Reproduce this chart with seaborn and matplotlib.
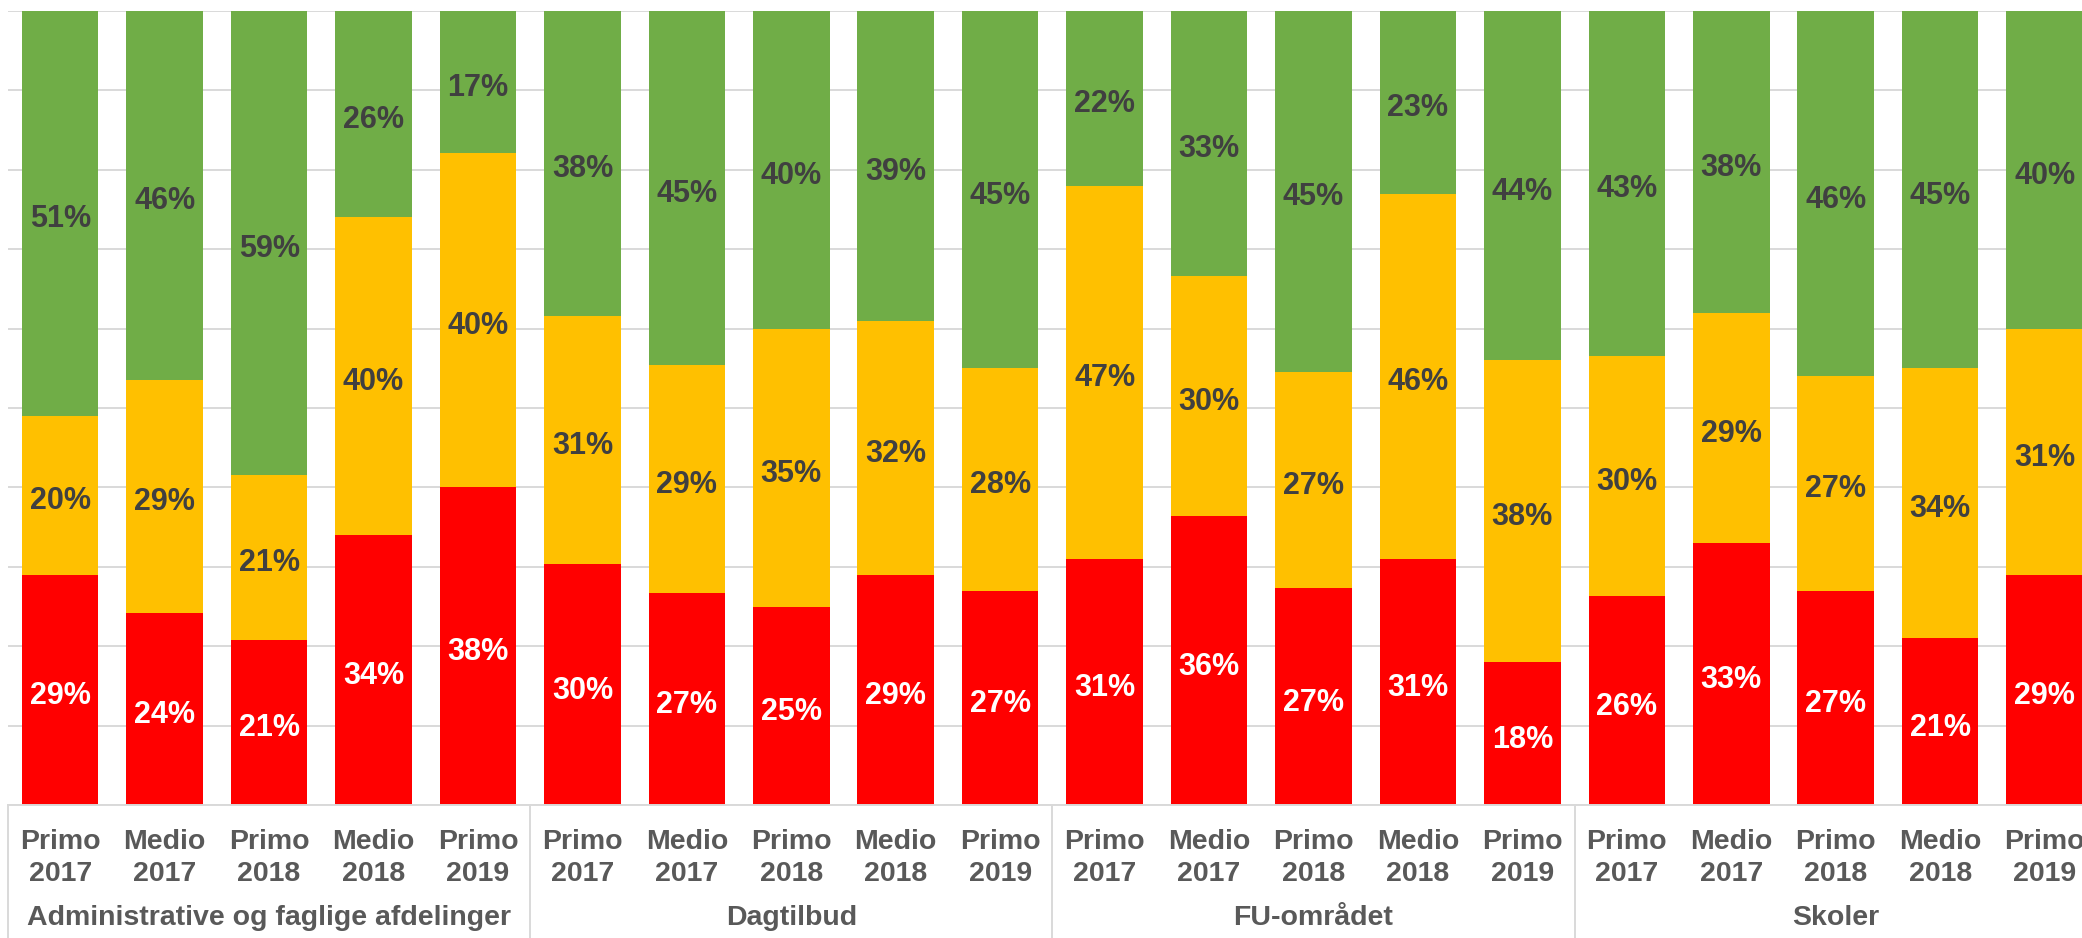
import numpy as np
import pandas as pd
import matplotlib
matplotlib.use("Agg")
import matplotlib.pyplot as plt
import matplotlib.transforms as mtransforms
import seaborn as sns

# ---------------- data ----------------
groups = ["Administrative og faglige afdelinger", "Dagtilbud", "FU-området", "Skoler"]
periods = ["Primo\n2017", "Medio\n2017", "Primo\n2018", "Medio\n2018", "Primo\n2019"]

red_vals = [29, 24, 21, 34, 38,
            30, 27, 25, 29, 27,
            31, 36, 27, 31, 18,
            26, 33, 27, 21, 29]
yellow_vals = [20, 29, 21, 40, 40,
               31, 29, 35, 32, 28,
               47, 30, 27, 46, 38,
               30, 29, 27, 34, 31]
green_vals = [51, 46, 59, 26, 17,
              38, 45, 40, 39, 45,
              22, 33, 45, 23, 44,
              43, 38, 46, 45, 40]

GREEN = "#70AD47"
YELLOW = "#FFC000"
RED = "#FF0000"
GRID = "#D9D9D9"

# ---------------- table ----------------
keys = [f"{g}|{p}" for g in groups for p in periods]
r = np.array(red_vals, float)
y = np.array(yellow_vals, float)
g = np.array(green_vals, float)
tot = r + y + g
df = pd.DataFrame({
    "key": keys,
    "red": r / tot,
    "redyellow": (r + y) / tot,
    "full": (r + y + g) / tot,
})

sns.set_theme(style="white")
plt.rcParams["font.family"] = ["Liberation Sans", "DejaVu Sans"]

W, H = 2082, 938
fig = plt.figure(figsize=(W / 100, H / 100), dpi=100)
x0, ybot, ytop = 8, 805, 11
period_px = 104.44
ax = fig.add_axes([x0 / W, (H - ybot) / H, 20 * period_px / W, (ybot - ytop) / H])

bw = 0.733
for col, colr in [("full", GREEN), ("redyellow", YELLOW), ("red", RED)]:
    sns.barplot(data=df, x="key", y=col, order=keys, color=colr, saturation=1,
                width=bw, errorbar=None, ax=ax, zorder=2, linewidth=0)

ax.set_xlim(-0.5, 19.5)
ax.set_ylim(0, 1)
ax.set_yticks(np.arange(0, 1.001, 0.1))
ax.set_yticklabels([])
ax.yaxis.grid(True, color=GRID, lw=1.4)
ax.xaxis.grid(False)
ax.set_axisbelow(True)
for s in ["top", "right", "left"]:
    ax.spines[s].set_visible(False)
ax.spines["bottom"].set_color(GRID)
ax.spines["bottom"].set_linewidth(1.4)
ax.spines["bottom"].set_zorder(3)
ax.tick_params(axis="y", length=0)
ax.set_xlabel("")
ax.set_ylabel("")

ax.set_xticks(range(len(keys)))
ax.set_xticklabels(periods * len(groups), fontsize=20.5, fontweight="bold",
                   color="#595959", linespacing=1.3)
ax.tick_params(axis="x", length=0, pad=17)

# value labels
tr = mtransforms.offset_copy(ax.transData, fig=fig, x=0, y=-6, units="dots")
for i in range(len(keys)):
    rf, ryf = df["red"][i], df["redyellow"][i]
    kw = dict(ha="center", va="center", fontsize=22, fontweight="bold",
              zorder=4, transform=tr)
    ax.text(i, rf / 2, f"{red_vals[i]}%", color="white", **kw)
    ax.text(i, (rf + ryf) / 2, f"{yellow_vals[i]}%", color="#404040", **kw)
    ax.text(i, (ryf + 1) / 2, f"{green_vals[i]}%", color="#404040", **kw)

# group labels and separators
trans = mtransforms.blended_transform_factory(ax.transData, ax.transAxes)
span = ybot - ytop
for gi, gname in enumerate(groups):
    ax.text(gi * 5 + 2, -(918 - ybot) / span, gname, transform=trans,
            ha="center", va="center", fontsize=20.5, fontweight="bold", color="#595959")
for xs in [-0.5, 4.5, 9.5, 14.5, 19.5]:
    ax.plot([xs, xs], [0, -(H - ybot + 5) / span], transform=trans, clip_on=False,
            color=GRID, lw=1.4, zorder=3)

fig.savefig("out.png", dpi=100)
